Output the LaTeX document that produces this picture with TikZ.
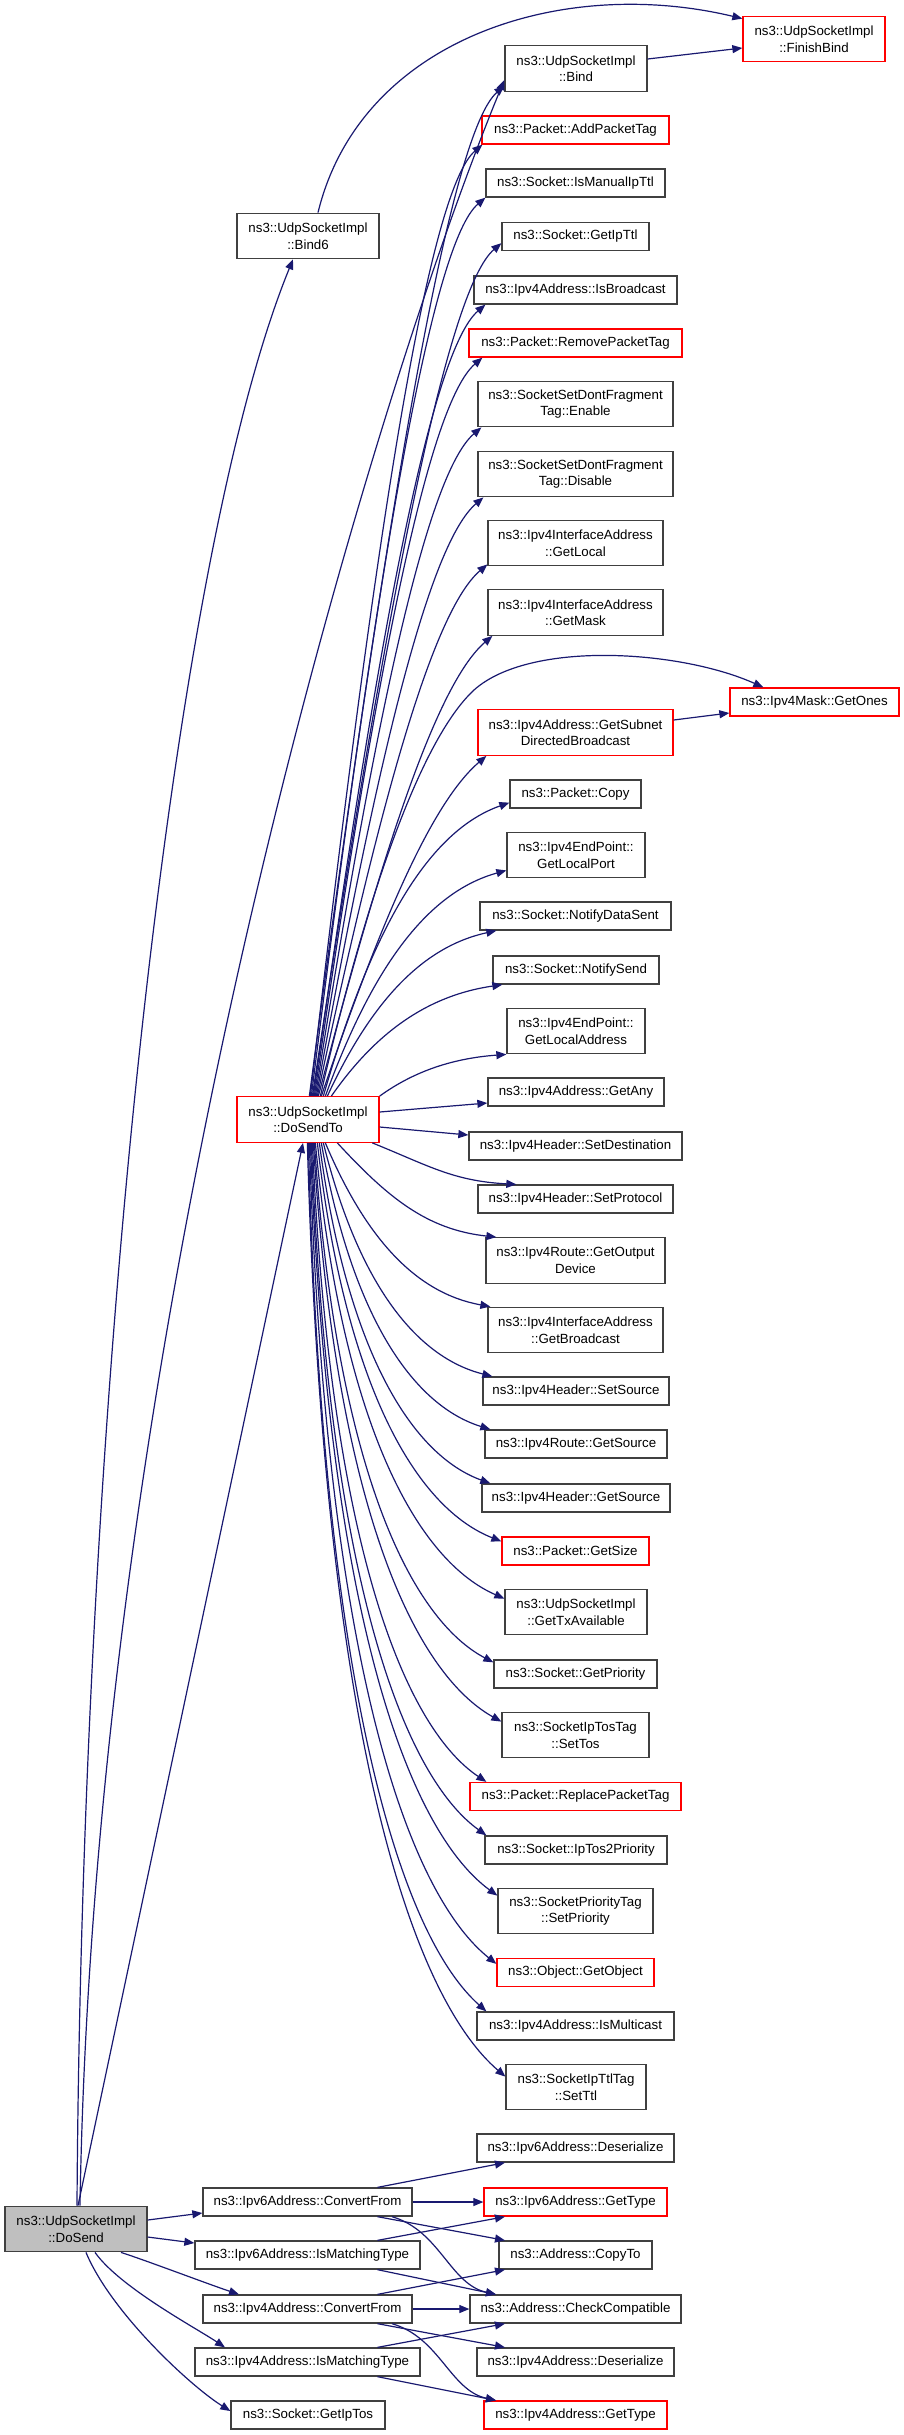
\documentclass[tikz,border=0pt]{standalone}
\usepackage{fontspec}
\setmainfont{Liberation Sans}
\usetikzlibrary{arrows.meta,calc}
\definecolor{edgeblue}{HTML}{191970}
\definecolor{boxgray}{HTML}{404040}
\definecolor{boxred}{HTML}{FF0000}
\definecolor{fillgray}{HTML}{BFBFBF}
\tikzset{
  box/.style={draw=boxgray, line width=1.3pt, fill=white, inner sep=0pt, align=center,
    font=\fontsize{13.3}{16.5}\selectfont, minimum height=28pt},
  two/.style={minimum height=45.5pt},
  redbox/.style={draw=boxred},
  edge/.style={draw=edgeblue, line width=1.2pt, -{Triangle[length=10pt,width=8pt]}},
}
\newcommand\fanfar[2]{\draw[edge] let \p1=(#1), \p2=(#2) in (\p1) .. controls ($(\p1)!0.66!({\x2-70pt},{\y2-60pt})$) and ({\x2-52.5pt},{\y2-45pt}) .. (\p2);}
\newcommand\fannear[2]{\draw[edge] let \p1=(#1), \p2=(#2) in (\p1) .. controls ({\x1+0.25*(\x2-\x1)},{\y1+0.55*(\y2-\y1)}) and ({\x2-0.45*(\x2-\x1)},{\y2-0.1*(\y2-\y1)}) .. (\p2);}
\newcommand\fanlow[2]{\draw[edge] let \p1=(#1), \p2=(#2) in (\p1) .. controls ({\x1+0.5*(\x2-\x1)/((\x2-\x1)+(\y1-\y2))*(\x2-\x1)},{\y1-(\y1-\y2)*(0.5+0.2*(\y1-\y2)/((\x2-\x1)+(\y1-\y2)))}) and ({\x2-0.44*(\x2-\x1)},{\y2+0.08*(\y1-\y2)}) .. (\p2);}
\begin{document}
\begin{tikzpicture}[x=1pt,y=-1pt]
\path[use as bounding box, fill=white] (0,0) rectangle (904,2435);

% left / middle column
\node[box, two, fill=fillgray, minimum width=142pt] (DoSend) at (76,2229) {ns3::UdpSocketImpl\\::DoSend};
\node[box, two, minimum width=142pt] (Bind6) at (308,236) {ns3::UdpSocketImpl\\::Bind6};
\node[box, two, redbox, minimum width=142pt] (DoSendTo) at (308,1119.5) {ns3::UdpSocketImpl\\::DoSendTo};
\node[box, minimum width=209pt] (I6CF) at (307.5,2202) {ns3::Ipv6Address::ConvertFrom};
\node[box, minimum width=225pt] (I6MT) at (307.5,2255) {ns3::Ipv6Address::IsMatchingType};
\node[box, minimum width=209pt] (I4CF) at (307.5,2309) {ns3::Ipv4Address::ConvertFrom};
\node[box, minimum width=225pt] (I4MT) at (307.5,2362) {ns3::Ipv4Address::IsMatchingType};
\node[box, minimum width=154pt] (GIPT) at (308,2415) {ns3::Socket::GetIpTos};

% far right column
\node[box, two, redbox, minimum width=142pt] (FinishBind) at (814,39) {ns3::UdpSocketImpl\\::FinishBind};
\node[box, redbox, minimum width=169pt] (GetOnes) at (814.5,702) {ns3::Ipv4Mask::GetOnes};

% right column
\node[box, two, minimum width=142pt] (Bind) at (576,68.5) {ns3::UdpSocketImpl\\::Bind};
\node[box, redbox, minimum width=187pt] (APT) at (575.5,130) {ns3::Packet::AddPacketTag};
\node[box, minimum width=179pt] (IMT) at (575.5,183) {ns3::Socket::IsManualIpTtl};
\node[box, minimum width=147pt] (GIT) at (575.5,236.5) {ns3::Socket::GetIpTtl};
\node[box, minimum width=203pt] (IB) at (575.5,290) {ns3::Ipv4Address::IsBroadcast};
\node[box, redbox, minimum width=213pt] (RPT) at (575.5,343) {ns3::Packet::RemovePacketTag};
\node[box, two, minimum width=195pt] (EN) at (575.5,404) {ns3::SocketSetDontFragment\\Tag::Enable};
\node[box, two, minimum width=195pt] (DI) at (575.5,474) {ns3::SocketSetDontFragment\\Tag::Disable};
\node[box, two, minimum width=175pt] (GL) at (575.5,543) {ns3::Ipv4InterfaceAddress\\::GetLocal};
\node[box, two, minimum width=175pt] (GM) at (575.5,612.5) {ns3::Ipv4InterfaceAddress\\::GetMask};
\node[box, two, redbox, minimum width=195pt] (GS) at (575.5,732.5) {ns3::Ipv4Address::GetSubnet\\DirectedBroadcast};
\node[box, minimum width=131pt] (CP) at (575.5,794) {ns3::Packet::Copy};
\node[box, two, minimum width=138pt] (GLP) at (576,855) {ns3::Ipv4EndPoint::\\GetLocalPort};
\node[box, minimum width=191pt] (NDS) at (575.5,916) {ns3::Socket::NotifyDataSent};
\node[box, minimum width=166pt] (NS) at (576,970) {ns3::Socket::NotifySend};
\node[box, two, minimum width=138pt] (GLA) at (576,1031) {ns3::Ipv4EndPoint::\\GetLocalAddress};
\node[box, minimum width=176pt] (GA) at (576,1092) {ns3::Ipv4Address::GetAny};
\node[box, minimum width=213pt] (SD) at (575.5,1146) {ns3::Ipv4Header::SetDestination};
\node[box, minimum width=195pt] (SP) at (575.5,1199) {ns3::Ipv4Header::SetProtocol};
\node[box, two, minimum width=179pt] (GOD) at (575.5,1260.5) {ns3::Ipv4Route::GetOutput\\Device};
\node[box, two, minimum width=175pt] (GB) at (575.5,1330) {ns3::Ipv4InterfaceAddress\\::GetBroadcast};
\node[box, minimum width=186pt] (SS) at (576,1391) {ns3::Ipv4Header::SetSource};
\node[box, minimum width=182pt] (RGS) at (576,1444) {ns3::Ipv4Route::GetSource};
\node[box, minimum width=188pt] (HGS) at (576,1498) {ns3::Ipv4Header::GetSource};
\node[box, redbox, minimum width=147pt] (GSZ) at (575.5,1551) {ns3::Packet::GetSize};
\node[box, two, minimum width=142pt] (GTX) at (576,1612) {ns3::UdpSocketImpl\\::GetTxAvailable};
\node[box, minimum width=163pt] (GP) at (575.5,1674) {ns3::Socket::GetPriority};
\node[box, two, minimum width=147pt] (ST) at (575.5,1735) {ns3::SocketIpTosTag\\::SetTos};
\node[box, redbox, minimum width=211pt] (RP) at (575.5,1796.5) {ns3::Packet::ReplacePacketTag};
\node[box, minimum width=182pt] (ITP) at (576,1850) {ns3::Socket::IpTos2Priority};
\node[box, two, minimum width=155pt] (SPR) at (575.5,1911) {ns3::SocketPriorityTag\\::SetPriority};
\node[box, redbox, minimum width=157pt] (GOB) at (575.5,1972.5) {ns3::Object::GetObject};
\node[box, minimum width=197pt] (IM) at (575.5,2026) {ns3::Ipv4Address::IsMulticast};
\node[box, two, minimum width=140pt] (STT) at (576,2087) {ns3::SocketIpTtlTag\\::SetTtl};
\node[box, minimum width=197pt] (I6DS) at (575.5,2148) {ns3::Ipv6Address::Deserialize};
\node[box, redbox, minimum width=183pt] (I6GT) at (575.5,2202) {ns3::Ipv6Address::GetType};
\node[box, minimum width=153pt] (CT) at (575.5,2255) {ns3::Address::CopyTo};
\node[box, minimum width=211pt] (CC) at (575.5,2309) {ns3::Address::CheckCompatible};
\node[box, minimum width=197pt] (I4DS) at (575.5,2362) {ns3::Ipv4Address::Deserialize};
\node[box, redbox, minimum width=183pt] (I4GT) at (575.5,2415) {ns3::Ipv4Address::GetType};

% DoSend edges
\draw[edge] ([xshift=1pt]DoSend.north) .. controls (82,1400) and (170,560) .. ([xshift=-15pt]Bind6.south);
\draw[edge] ([xshift=4pt]DoSend.north) .. controls (95,1300) and (380,380) .. ([yshift=-11.5pt]Bind.west);
\draw[edge] ([xshift=2pt]DoSend.north) -- ([xshift=-5pt]DoSendTo.south);
\draw[edge] ([yshift=9pt]DoSend.east) -- ([yshift=-11pt]I6CF.west);
\draw[edge] ([yshift=-8pt]DoSend.east) -- ([yshift=12pt]I6MT.west);
\draw[edge] ([xshift=45pt]DoSend.south) .. controls +(25,8) and +(-30,-10) .. ([xshift=-68.5pt]I4CF.north);
\draw[edge] ([xshift=19pt]DoSend.south) .. controls +(25,35) and +(-30,-20) .. ([xshift=-82.5pt]I4MT.north);
\draw[edge] ([xshift=10pt]DoSend.south) .. controls +(25,60) and +(-40,-25) .. ([yshift=4pt]GIPT.west);

% Bind / Bind6 / GetSubnet
\draw[edge] ([xshift=10pt]Bind6.north) .. controls (360,40) and (560,-25) .. ([yshift=-3pt]FinishBind.north west);
\draw[edge] ([yshift=9.5pt]Bind.east) -- ([yshift=-9pt]FinishBind.west);
\draw[edge] ([yshift=12.5pt]GS.east) -- ([yshift=-11pt]GetOnes.west);

% DoSendTo upward fan
\fanfar{[xshift=73pt]DoSendTo.north west}{[yshift=-17.5pt]Bind.west}
\fanfar{[xshift=74pt]DoSendTo.north west}{[xshift=1pt]APT.south west}
\fanfar{[xshift=75pt]DoSendTo.north west}{IMT.south west}
\fanfar{[xshift=76pt]DoSendTo.north west}{[yshift=8pt]GIT.south west}
\fanfar{[xshift=77pt]DoSendTo.north west}{[xshift=12pt]IB.south west}
\fanfar{[xshift=78pt]DoSendTo.north west}{[xshift=14pt]RPT.south west}
\fanfar{[xshift=79pt]DoSendTo.north west}{[xshift=4pt]EN.south west}
\fanfar{[xshift=80pt]DoSendTo.north west}{[xshift=6pt]DI.south west}
\fanfar{[xshift=81pt]DoSendTo.north west}{[yshift=2pt]GL.south west}
\fanfar{[xshift=82pt]DoSendTo.north west}{[xshift=5pt]GM.south west}
\fanfar{[xshift=85pt]DoSendTo.north west}{[xshift=9pt]GS.south west}
\draw[edge] ([xshift=84pt]DoSendTo.north west) .. controls (365,900) and (420,740) .. (474,690) .. controls (530,640) and (680,650) .. ([xshift=34pt]GetOnes.north west);
\fannear{[xshift=87pt]DoSendTo.north west}{[yshift=6pt]CP.south west}
\fannear{[xshift=89pt]DoSendTo.north west}{[yshift=8pt]GLP.south west}
\fannear{[xshift=91pt]DoSendTo.north west}{[xshift=17pt]NDS.south west}
\fannear{[xshift=95pt]DoSendTo.north west}{[xshift=10pt]NS.south west}
\fannear{DoSendTo.north east}{GLA.south west}
\draw[edge] ([yshift=7.5pt]DoSendTo.east) -- ([yshift=-11pt]GA.west);
\draw[edge] ([yshift=-7.5pt]DoSendTo.east) -- ([yshift=11pt]SD.west);

% DoSendTo downward fan
\fanlow{[xshift=136pt]DoSendTo.south west}{[xshift=39pt]SP.north west}
\fanlow{[xshift=101pt]DoSendTo.south west}{[xshift=11pt]GOD.north west}
\fanlow{[xshift=89pt]DoSendTo.south west}{[xshift=3pt]GB.north west}
\fanlow{[xshift=87pt]DoSendTo.south west}{[xshift=10pt]SS.north west}
\fanlow{[xshift=85pt]DoSendTo.south west}{[xshift=6pt]RGS.north west}
\fanlow{[xshift=83pt]DoSendTo.south west}{[xshift=9pt]HGS.north west}
\fanlow{[xshift=81pt]DoSendTo.south west}{[yshift=-5pt]GSZ.north west}
\fanlow{[xshift=79pt]DoSendTo.south west}{[yshift=-10pt]GTX.north west}
\fanlow{[xshift=78pt]DoSendTo.south west}{[yshift=-3pt]GP.north west}
\fanlow{[xshift=77pt]DoSendTo.south west}{[yshift=-10pt]ST.north west}
\fanlow{[xshift=76pt]DoSendTo.south west}{[xshift=17pt]RP.north west}
\fanlow{[xshift=75pt]DoSendTo.south west}{[xshift=2pt]ITP.north west}
\fanlow{[xshift=74pt]DoSendTo.south west}{[yshift=-8pt]SPR.north west}
\fanlow{[xshift=73pt]DoSendTo.south west}{[yshift=-6pt]GOB.north west}
\fanlow{[xshift=72pt]DoSendTo.south west}{[xshift=10pt]IM.north west}
\fanlow{[xshift=71pt]DoSendTo.south west}{[yshift=-13pt]STT.north west}

% bottom cluster
\draw[edge] ([xshift=70pt]I6CF.north) -- ([xshift=-70.5pt]I6DS.south);
\draw[edge] (I6CF.east) -- (I6GT.west);
\draw[edge] ([xshift=70pt]I6CF.south) -- ([xshift=-70.5pt]CT.north);
\draw[edge] ([xshift=84.5pt]I6CF.south) .. controls +(48,14) and +(-46,-10) .. ([xshift=-79.5pt]CC.north);
\draw[edge] ([xshift=70pt]I6MT.north) -- ([xshift=-70.5pt]I6GT.south);
\draw[edge] ([xshift=70pt]I6MT.south) -- ([xshift=-79.5pt]CC.north);
\draw[edge] ([xshift=70pt]I4CF.north) -- ([xshift=-70.5pt]CT.south);
\draw[edge] (I4CF.east) -- (CC.west);
\draw[edge] ([xshift=70pt]I4CF.south) -- ([xshift=-70.5pt]I4DS.north);
\draw[edge] ([xshift=84.5pt]I4CF.south) .. controls +(48,14) and +(-46,-10) .. ([xshift=-79.5pt]I4GT.north);
\draw[edge] ([xshift=70pt]I4MT.north) -- ([xshift=-70.5pt]CC.south);
\draw[edge] ([xshift=70pt]I4MT.south) -- ([xshift=-79.5pt]I4GT.north);
\end{tikzpicture}
\end{document}
